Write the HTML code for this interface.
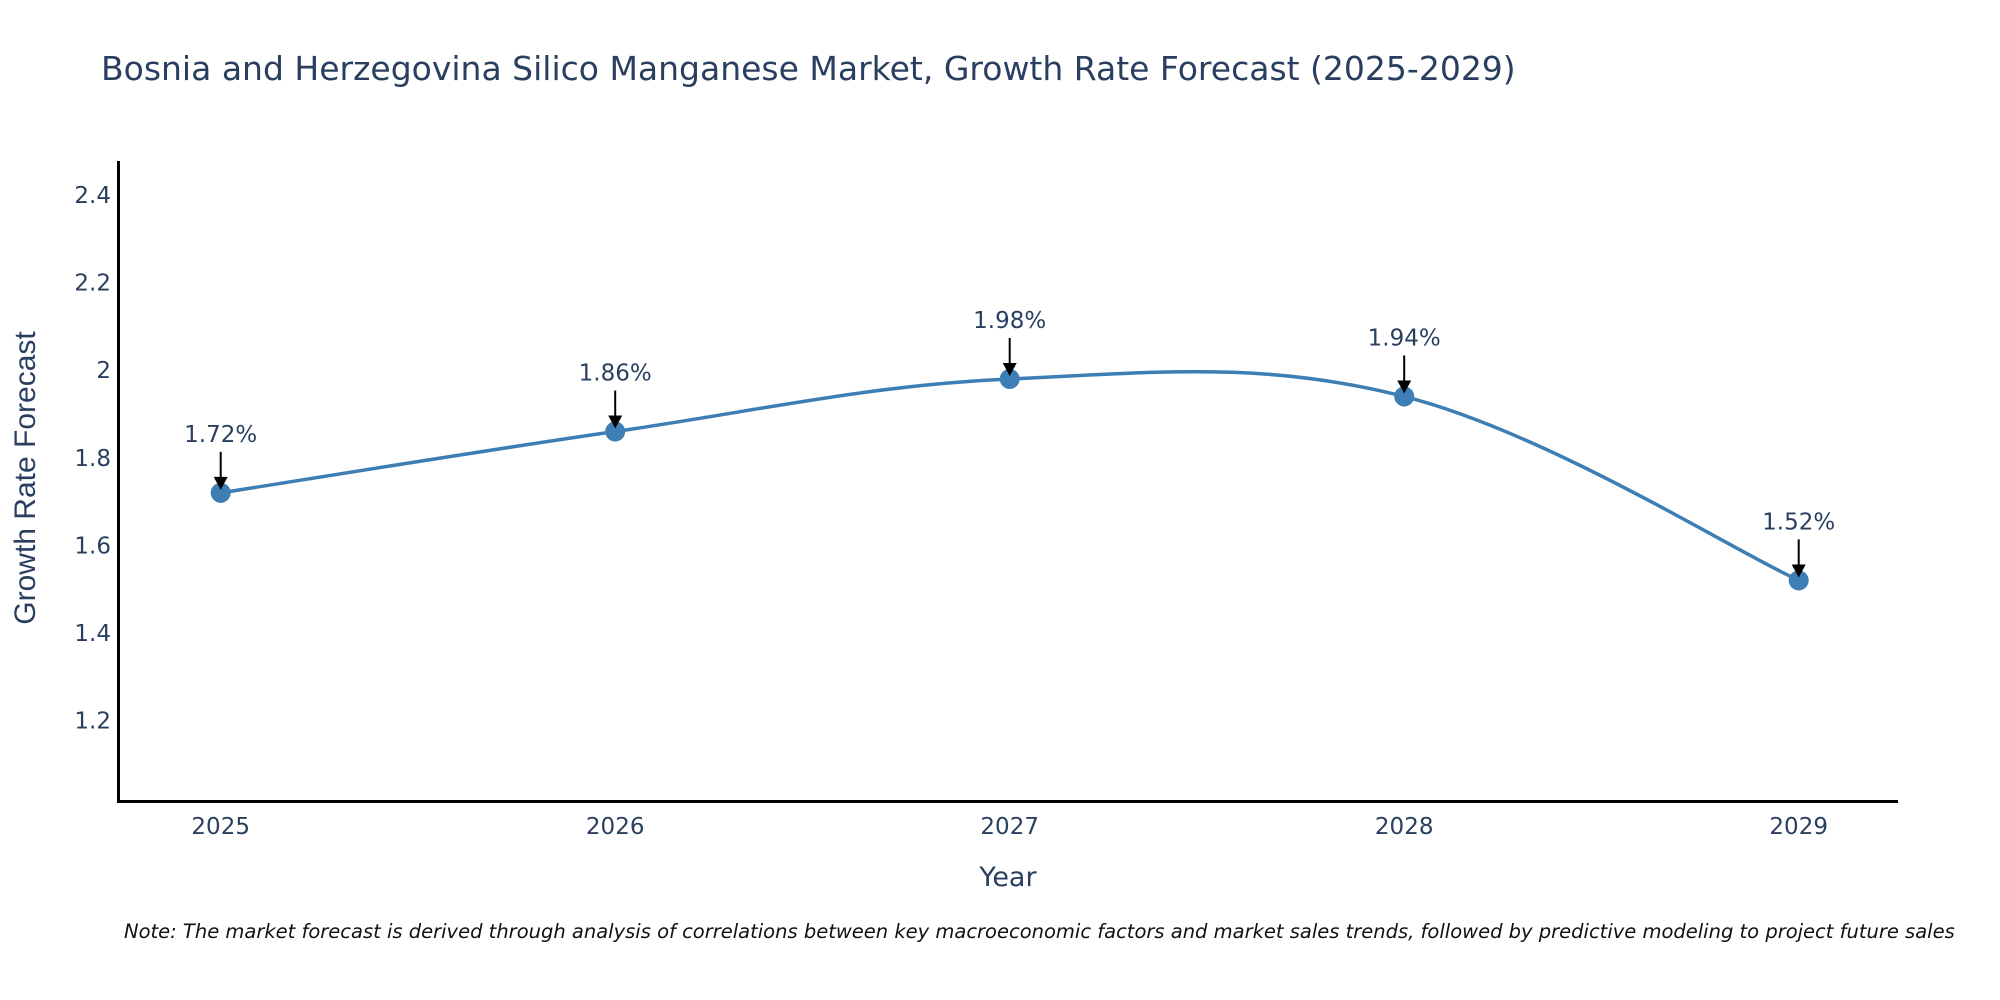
<!DOCTYPE html>
<html><head><meta charset="utf-8"><style>
body{margin:0;background:#fff;}
svg{display:block;font-family:"DejaVu Sans","Liberation Sans",sans-serif;}
</style></head><body>
<svg id="chart" width="2000" height="1000" viewBox="0 0 2000 1000">
<text x="101" y="80" font-size="33" fill="#2a3f5f">Bosnia and Herzegovina Silico Manganese Market, Growth Rate Forecast (2025-2029)</text>
<g id="yticks"></g>
<g id="xticks"></g>
<line x1="118.5" y1="161" x2="118.5" y2="802" stroke="#000" stroke-width="3"/>
<line x1="117" y1="801.5" x2="1898" y2="801.5" stroke="#000" stroke-width="3"/>
<path id="line" fill="none" stroke="#3d7fb5" stroke-width="3.5"/>
<g id="marks"></g>
<text transform="translate(35,478) rotate(-90)" text-anchor="middle" font-size="30" fill="#2a3f5f" font-family="Liberation Sans, sans-serif">Growth Rate Forecast</text>
<text x="1008" y="886" text-anchor="middle" font-size="27" fill="#2a3f5f">Year</text>
<text x="124" y="938" font-size="19.5" font-style="italic" fill="#111">Note: The market forecast is derived through analysis of correlations between key macroeconomic factors and market sales trends, followed by predictive modeling to project future sales</text>
</svg>
<script>
const years = ["2025","2026","2027","2028","2029"];
const values = [1.72, 1.86, 1.98, 1.94, 1.52];
const yTickValues = [1.2, 1.4, 1.6, 1.8, 2, 2.2, 2.4];
const yTickLabels = ["1.2","1.4","1.6","1.8","2","2.2","2.4"];

const NS = "http://www.w3.org/2000/svg";
const x0 = 220.7, dx = 394.5;
function xPos(i){ return x0 + i*dx; }
function yPos(v){ return 195 + (2.4 - v)*438; }
function mk(tag, attrs, parent){ const e=document.createElementNS(NS,tag); for(const k in attrs) e.setAttribute(k,attrs[k]); parent.appendChild(e); return e; }

const yg = document.getElementById('yticks');
yTickValues.forEach((v,i)=>{
  const t = mk('text',{x:111,y:yPos(v)+8,'text-anchor':'end','font-size':23,fill:'#2a3f5f'},yg);
  
  
  t.textContent = yTickLabels[i];
});
const xg = document.getElementById('xticks');
years.forEach((y,i)=>{
  const t = mk('text',{x:xPos(i),y:834,'text-anchor':'middle','font-size':23,fill:'#2a3f5f'},xg);
  
  
  t.textContent = y;
});

const pts = values.map((v,i)=>[xPos(i), yPos(v)]);
let d = `M${pts[0][0]},${pts[0][1]}`;
const s = 0.18;
for(let i=0;i<pts.length-1;i++){
  const p0=pts[Math.max(0,i-1)], p1=pts[i], p2=pts[i+1], p3=pts[Math.min(pts.length-1,i+2)];
  const c1=[p1[0]+(p2[0]-p0[0])*s, p1[1]+(p2[1]-p0[1])*s];
  const c2=[p2[0]-(p3[0]-p1[0])*s, p2[1]-(p3[1]-p1[1])*s];
  d += ` C${c1[0]},${c1[1]} ${c2[0]},${c2[1]} ${p2[0]},${p2[1]}`;
}
document.getElementById('line').setAttribute('d', d);

const mg = document.getElementById('marks');
values.forEach((v,i)=>{
  const cx=xPos(i), cy=yPos(v);
  const c = mk('circle',{cx:cx,cy:cy,r:10,fill:'#3d7fb5'},mg);
  
  
  const l = mk('line',{x1:cx,y1:cy-41,x2:cx,y2:cy-12,stroke:'#000','stroke-width':2},mg);
  
  
  const a = mk('path',{d:`M${cx-7},${cy-16} L${cx+7},${cy-16} L${cx},${cy-3} Z`,fill:'#000'},mg);
  
  
  const t = mk('text',{x:cx,y:cy-51,'text-anchor':'middle','font-size':23,fill:'#2a3f5f'},mg);
  
  
  t.textContent = v.toFixed(2)+'%';
});
</script>
</body></html>
